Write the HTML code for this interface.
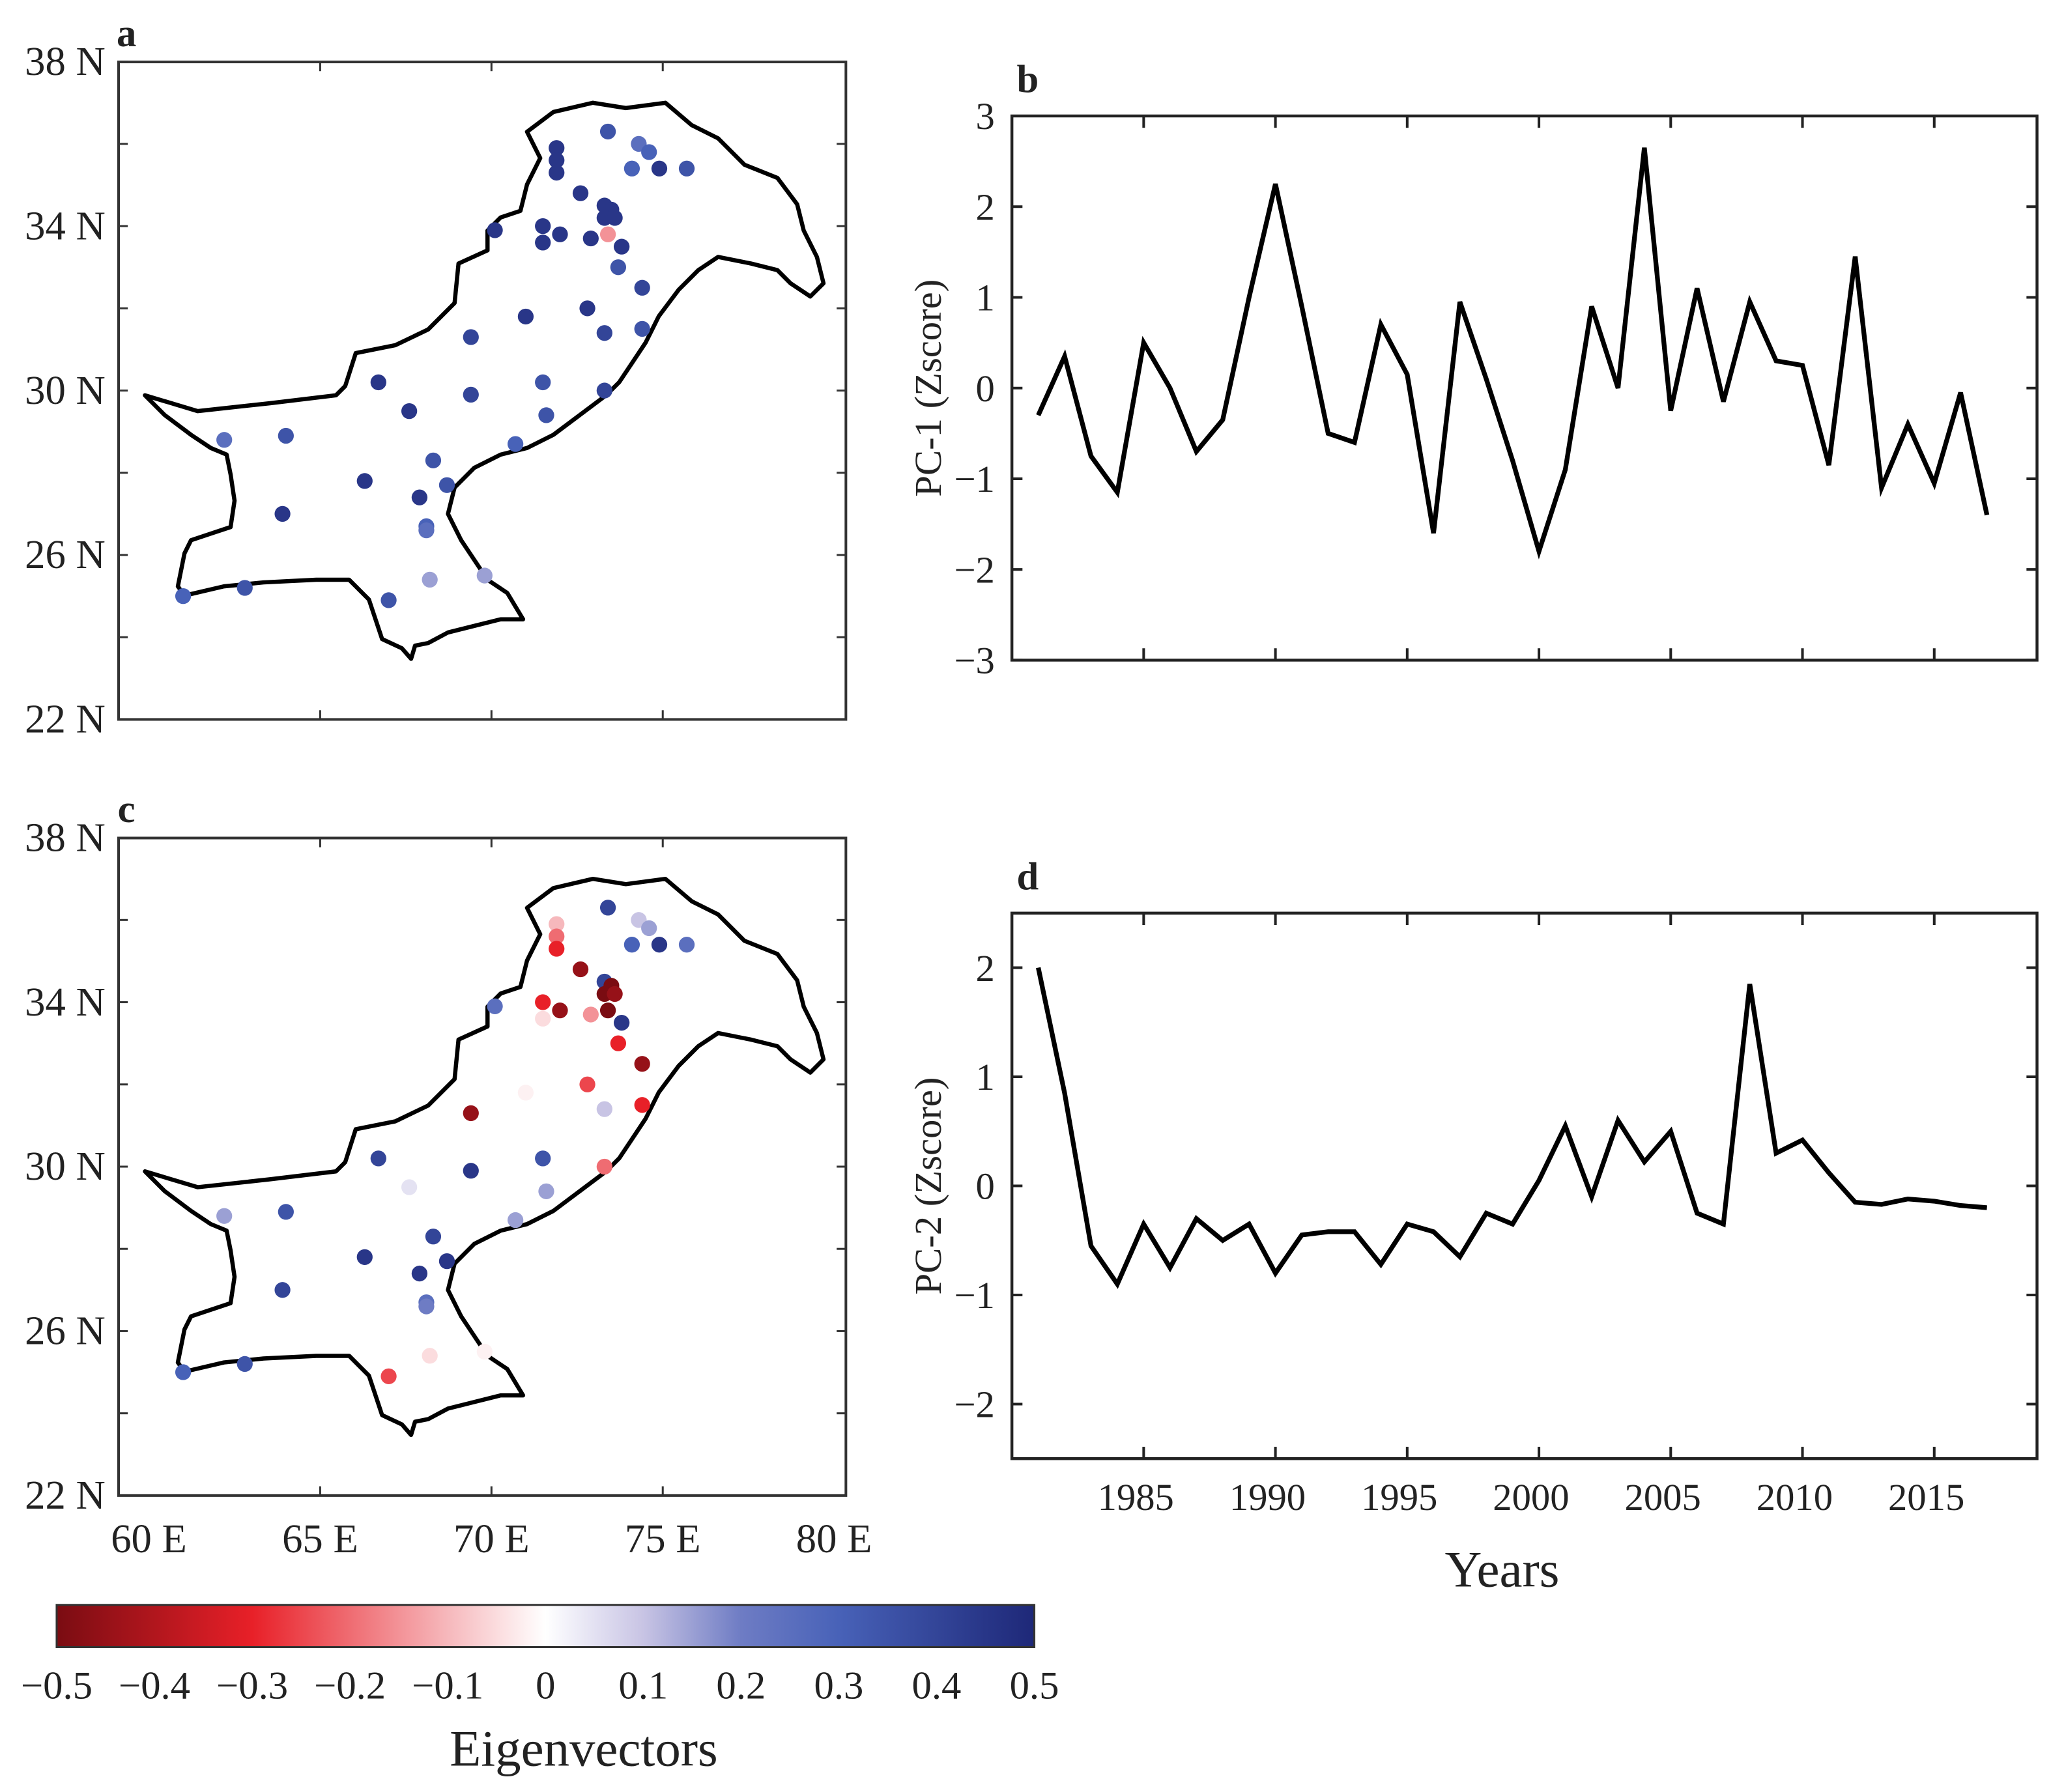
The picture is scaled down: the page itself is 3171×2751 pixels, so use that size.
<!DOCTYPE html>
<html><head><meta charset="utf-8"><style>
html,body{margin:0;padding:0;background:#fff}
svg{display:block}
text{font-family:"Liberation Serif",serif;fill:#222}
</style></head><body>
<svg id="fig" xmlns="http://www.w3.org/2000/svg" width="3171" height="2751" viewBox="0 0 1568 1360" preserveAspectRatio="none">
<g id="root"></g>
</svg>
<script>
const years = [1981,1982,1983,1984,1985,1986,1987,1988,1989,1990,1991,1992,1993,1994,1995,1996,1997,1998,1999,2000,2001,2002,2003,2004,2005,2006,2007,2008,2009,2010,2011,2012,2013,2014,2015,2016,2017];
const pc1 = [-0.3,0.35,-0.75,-1.15,0.5,0,-0.7,-0.35,1.0,2.25,0.9,-0.5,-0.6,0.7,0.15,-1.6,0.95,0.1,-0.8,-1.8,-0.9,0.9,0.0,2.65,-0.25,1.1,-0.15,0.95,0.3,0.25,-0.85,1.45,-1.1,-0.4,-1.05,-0.05,-1.4];
const pc2 = [2.0,0.85,-0.55,-0.9,-0.35,-0.75,-0.3,-0.5,-0.35,-0.8,-0.45,-0.42,-0.42,-0.72,-0.35,-0.42,-0.65,-0.25,-0.35,0.05,0.55,-0.1,0.6,0.22,0.5,-0.25,-0.35,1.85,0.3,0.42,0.12,-0.15,-0.17,-0.12,-0.14,-0.18,-0.2];
const yearTicks = [1985,1990,1995,2000,2005,2010,2015];
const pc1Ticks = [3,2,1,0,-1,-2,-3];
const pc2Ticks = [2,1,0,-1,-2];
const latTicks = [22,26,30,34,38];
const lonTicks = [60,65,70,75,80];
const cbTicks = [-0.5,-0.4,-0.3,-0.2,-0.1,0,0.1,0.2,0.3,0.4,0.5];
const stLon = [73.4,74.3,74.6,74.1,74.9,75.7,71.9,71.9,71.9,72.6,73.3,73.5,73.3,73.6,73.4,72.9,71.5,72.0,71.5,70.1,73.8,73.7,74.4,71.0,72.8,73.3,74.4,69.4,66.7,67.6,69.4,71.5,73.3,71.6,62.2,64.0,70.7,68.3,68.7,66.3,67.9,63.9,68.1,68.1,68.2,69.8,67.0,62.8,61.0];
const stLat = [36.3,36.0,35.8,35.4,35.4,35.4,35.9,35.6,35.3,34.8,34.5,34.4,34.2,34.2,33.8,33.7,34.0,33.8,33.6,33.9,33.5,33.0,32.5,31.8,32.0,31.4,31.5,31.3,30.2,29.5,29.9,30.2,30.0,29.4,28.8,28.9,28.7,28.3,27.7,27.8,27.4,27.0,26.7,26.6,25.4,25.5,24.9,25.2,25.0];
const eofA = [0.35,0.25,0.3,0.3,0.45,0.35,0.45,0.45,0.45,0.45,0.45,0.45,0.45,0.45,-0.15,0.45,0.45,0.45,0.45,0.45,0.45,0.35,0.4,0.45,0.45,0.4,0.35,0.4,0.45,0.45,0.4,0.35,0.4,0.35,0.25,0.35,0.3,0.35,0.35,0.45,0.45,0.45,0.3,0.25,0.15,0.15,0.35,0.35,0.3];
const eofC = [0.4,0.1,0.15,0.3,0.45,0.25,-0.1,-0.2,-0.3,-0.45,0.4,-0.5,-0.5,-0.45,-0.5,-0.15,-0.3,-0.45,-0.05,0.25,0.45,-0.3,-0.45,-0.02,-0.25,0.1,-0.3,-0.45,0.4,0.05,0.45,0.35,-0.2,0.15,0.15,0.35,0.15,0.4,0.45,0.45,0.45,0.4,0.25,0.2,-0.05,-0.02,-0.25,0.35,0.3];
const outline = [[110,300],[150,312],[205,306],[255,300],[262,293],[270,268],[300,262],[325,250],[345,230],[348,200],[370,190],[370,175],[380,165],[395,160],[400,140],[410,120],[400,100],[420,85],[450,78],[475,82],[505,78],[525,95],[545,105],[565,125],[590,135],[605,155],[610,175],[620,195],[625,215],[615,225],[600,215],[590,205],[570,200],[545,195],[530,205],[515,220],[500,240],[490,260],[480,275],[470,290],[460,300],[440,315],[420,330],[400,340],[380,345],[360,355],[345,370],[340,390],[350,410],[360,425],[370,440],[385,450],[397,470],[380,470],[360,475],[340,480],[325,488],[315,490],[312,500],[305,492],[290,485],[285,470],[280,455],[270,445],[265,440],[240,440],[200,442],[170,445],[140,452],[135,445],[140,420],[145,410],[160,405],[175,400],[178,380],[175,360],[172,345],[160,340],[145,330],[125,315],[110,300]];

const NS="http://www.w3.org/2000/svg";
const root=document.getElementById('root');
function el(tag,attrs,parent){const e=document.createElementNS(NS,tag);for(const k in attrs)e.setAttribute(k,attrs[k]);(parent||root).appendChild(e);return e;}
function txt(s,x,y,size,anchor,parent,extra){const t=el('text',Object.assign({x:x,y:y,'font-size':size,'text-anchor':anchor||'middle'},extra||{}),parent);t.textContent=s;return t;}

const cstops=[[-0.5,[122,12,18]],[-0.3,[232,32,40]],[-0.1,[246,184,188]],[0,[255,255,255]],[0.1,[200,196,228]],[0.2,[110,124,196]],[0.3,[72,98,184]],[0.5,[30,40,120]]];
function cmap(v){v=Math.max(-0.5,Math.min(0.5,v));for(let i=0;i<cstops.length-1;i++){const a=cstops[i],b=cstops[i+1];if(v<=b[0]){const t=(v-a[0])/(b[0]-a[0]);const c=a[1].map((q,j)=>Math.round(q+(b[1][j]-q)*t));return 'rgb('+c.join(',')+')';}}return 'rgb(30,40,120)';}

function mapPanel(name,letter,oy,vals){
  const g=el('g',{});
  
  
  const L=90,R=642,T=47+oy,B=546+oy;
  const lx=lon=>113+(lon-60)*26, ly=lat=>B-(lat-22)*31.2;
  const bx=el('rect',{x:L,y:T,width:R-L,height:B-T,fill:'none',stroke:'#333','stroke-width':2},g);
  
  
  for(let lat=22;lat<=38;lat+=2){const y=ly(lat);el('line',{x1:L,x2:L+7,y1:y,y2:y,stroke:'#333','stroke-width':1.5},g);el('line',{x1:R,x2:R-7,y1:y,y2:y,stroke:'#333','stroke-width':1.5},g);}
  for(const lon of [65,70,75]){const x=lx(lon);el('line',{x1:x,x2:x,y1:B,y2:B-7,stroke:'#333','stroke-width':1.5},g);el('line',{x1:x,x2:x,y1:T,y2:T+7,stroke:'#333','stroke-width':1.5},g);}
  latTicks.forEach(lat=>{const t=txt(lat+' N',80,ly(lat)+10,31,'end',g);});
  const p=el('polygon',{points:outline.map(q=>q[0]+','+(q[1]+oy)).join(' '),fill:'none',stroke:'#000','stroke-width':3.2,'stroke-linejoin':'round'},g);
  
  
  stLon.forEach((lon,i)=>{const c=el('circle',{cx:lx(lon),cy:ly(stLat[i]),r:6,fill:cmap(vals[i])},g);});
  const t=txt(letter,L+6,T-12,30,'middle',g,{'font-weight':'bold'});
  return {lx};
}
mapPanel('map-pc1-loadings','a',0,eofA);
const mc=mapPanel('map-pc2-loadings','c',589,eofC);
lonTicks.forEach(lon=>{const t=txt(lon+' E',mc.lx(lon),1178,31,'middle');});

const defs=el('defs',{});
const grad=el('linearGradient',{id:'cbg',x1:0,x2:1,y1:0,y2:0},defs);
for(let i=0;i<=20;i++){const v=-0.5+i*0.05;el('stop',{offset:(i/20),'stop-color':cmap(v)},grad);}
const cb=el('rect',{x:43,y:1218,width:742,height:32,fill:'url(#cbg)',stroke:'#333','stroke-width':1.5});


cbTicks.forEach(v=>{const x=43+(v+0.5)*742;const s=(v<0?'\u2212':'')+(Math.abs(v)===0?'0':Math.abs(v).toFixed(1));const t=txt(s,x,1289,30,'middle');});
const cbt=txt('Eigenvectors',443,1340,39,'middle');



function linePanel(name,letter,T,B,ymin,ymax,ticks,vals,ytitle,showX){
  const g=el('g',{});
  
  
  const L=768,R=1546;
  const sx=y=>788+(y-1981)*20, sy=v=>B-(v-ymin)/(ymax-ymin)*(B-T);
  const bx=el('rect',{x:L,y:T,width:R-L,height:B-T,fill:'none',stroke:'#222','stroke-width':2.2},g);
  
  
  ticks.forEach(v=>{const y=sy(v);el('line',{x1:L,x2:L+8,y1:y,y2:y,stroke:'#222','stroke-width':2},g);el('line',{x1:R,x2:R-8,y1:y,y2:y,stroke:'#222','stroke-width':2},g);
    const t=txt((v<0?'\u2212':'')+Math.abs(v),755,y+10,29,'end',g);});
  yearTicks.forEach(yr=>{const x=sx(yr);el('line',{x1:x,x2:x,y1:B,y2:B-9,stroke:'#222','stroke-width':2},g);el('line',{x1:x,x2:x,y1:T,y2:T+9,stroke:'#222','stroke-width':2},g);
    if(showX){const t=txt(String(yr),x-6,1146,29,'middle',g);}});
  const ln=el('polyline',{points:vals.map((v,i)=>sx(years[i])+','+sy(v)).join(' '),fill:'none',stroke:'#000','stroke-width':3.6,'stroke-linejoin':'miter'},g);
  
  
  const yt=txt(ytitle,0,0,29,'middle',g,{transform:'translate(714,'+((T+B)/2)+') rotate(-90)'});
  
  
  const lt=txt(letter,780,T-18,30,'middle',g,{'font-weight':'bold'});
  
  
}
linePanel('pc1-timeseries','b',88,501,-3,3,pc1Ticks,pc1,'PC-1 (Zscore)',false);
linePanel('pc2-timeseries','d',693,1107,-2.5,2.5,pc2Ticks,pc2,'PC-2 (Zscore)',true);
const xt=txt('Years',1140,1204,39,'middle');


</script>
</body></html>
